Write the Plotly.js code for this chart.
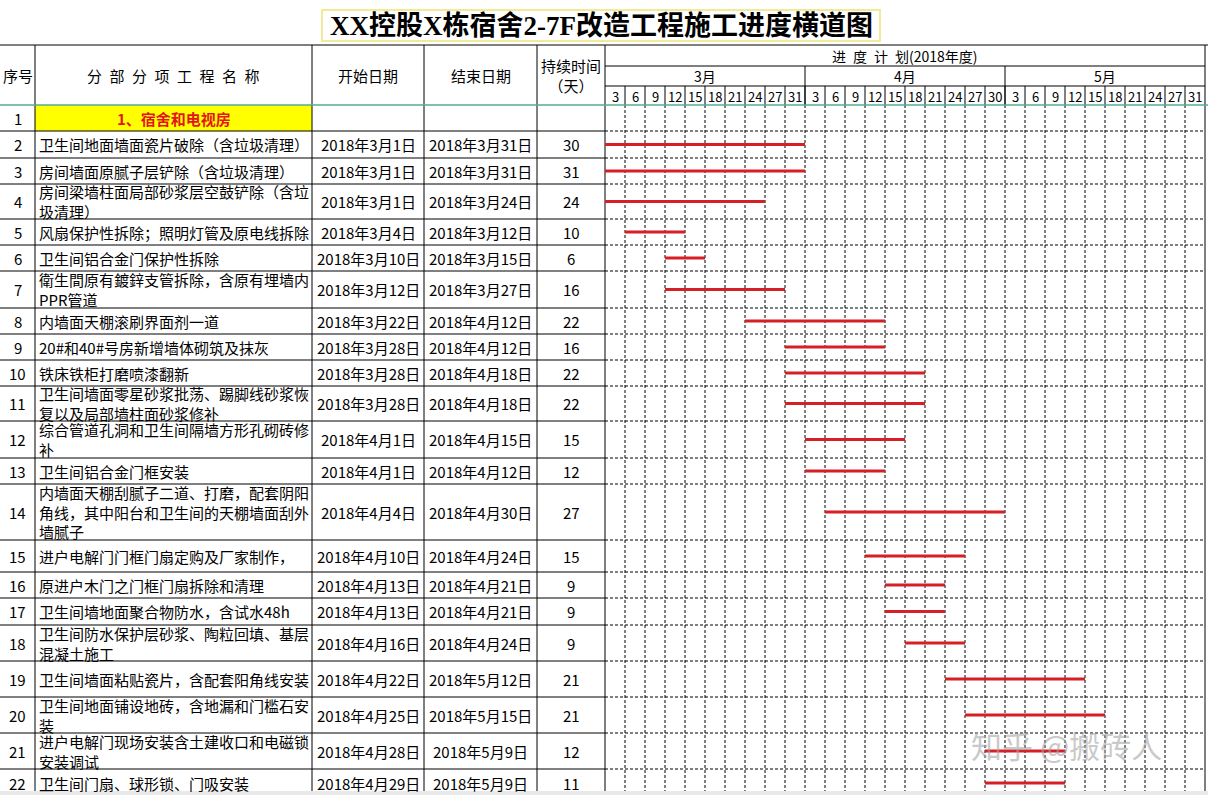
<!DOCTYPE html>
<html>
<head>
<meta charset="utf-8">
<script src="https://cdn.plot.ly/plotly-3.0.1.min.js"></script>
<style>html,body{margin:0;padding:0;background:#fff;}#chart{width:1208px;height:795px;}</style>
</head>
<body>
<div id="chart"></div>
<script>
// ---------------- DATA ----------------
const chartTitle = 'XX控股X栋宿舍2-7F改造工程施工进度横道图';
const seqNumbers = [1,2,3,4,5,6,7,8,9,10,11,12,13,14,15,16,17,18,19,20,21,22];
const taskNames = [
  '1、宿舍和电视房',
  '卫生间地面墙面瓷片破除（含垃圾清理）',
  '房间墙面原腻子层铲除（含垃圾清理）',
  '房间梁墙柱面局部砂浆层空鼓铲除（含垃<br>圾清理）',
  '风扇保护性拆除；照明灯管及原电线拆除',
  '卫生间铝合金门保护性拆除',
  '衛生間原有鍍鋅支管拆除，含原有埋墙内<br>PPR管道',
  '内墙面天棚滚刷界面剂一道',
  '20#和40#号房新增墙体砌筑及抹灰',
  '铁床铁柜打磨喷漆翻新',
  '卫生间墙面零星砂浆批荡、踢脚线砂浆恢<br>复以及局部墙柱面砂浆修补',
  '综合管道孔洞和卫生间隔墙方形孔砌砖修<br>补',
  '卫生间铝合金门框安装',
  '内墙面天棚刮腻子二道、打磨，配套阴阳<br>角线，其中阳台和卫生间的天棚墙面刮外<br>墙腻子',
  '进户电解门门框门扇定购及厂家制作，',
  '原进户木门之门框门扇拆除和清理',
  '卫生间墙地面聚合物防水，含试水48h',
  '卫生间防水保护层砂浆、陶粒回填、基层<br>混凝土施工',
  '卫生间墙面粘贴瓷片，含配套阳角线安装',
  '卫生间地面铺设地砖，含地漏和门槛石安<br>装',
  '进户电解门现场安装含土建收口和电磁锁<br>安装调试',
  '卫生间门扇、球形锁、门吸安装'
];
const startDates = ['',
  '2018年3月1日','2018年3月1日','2018年3月1日','2018年3月4日','2018年3月10日','2018年3月12日',
  '2018年3月22日','2018年3月28日','2018年3月28日','2018年3月28日','2018年4月1日','2018年4月1日',
  '2018年4月4日','2018年4月10日','2018年4月13日','2018年4月13日','2018年4月16日','2018年4月22日',
  '2018年4月25日','2018年4月28日','2018年4月29日'];
const endDates = ['',
  '2018年3月31日','2018年3月31日','2018年3月24日','2018年3月12日','2018年3月15日','2018年3月27日',
  '2018年4月12日','2018年4月12日','2018年4月18日','2018年4月18日','2018年4月15日','2018年4月12日',
  '2018年4月30日','2018年4月24日','2018年4月21日','2018年4月21日','2018年4月24日','2018年5月12日',
  '2018年5月15日','2018年5月9日','2018年5月9日'];
const durations = ['',30,31,24,10,6,16,22,16,22,22,15,12,27,15,9,9,9,21,21,12,11];
const monthLabels = ['3月','4月','5月'];
const dayLabels = ['3','6','9','12','15','18','21','24','27','31',
                   '3','6','9','12','15','18','21','24','27','30',
                   '3','6','9','12','15','18','21','24','27','31'];
const headerLabels = ['序号','分\u2002部\u2002分\u2002项\u2002工\u2002程\u2002名\u2002称','开始日期','结束日期','持续时间<br>（天）'];
const planLabel = '进\u2002度\u2002计\u2002划(2018年度)';
const watermarkText = '知乎 @搬砖人';

// ---------------- LAYOUT (pixels) ----------------
const W = 1208, H = 795;
const colEdges = [0, 35, 312, 424, 537, 605];
const ganttLeft = 605, ganttRight = 1205;
const tableTop = 45, headerBottom = 105;
const rowHeights = [26,27,26,35,26,26,37,26,26,26,35,37,26,56,32,26,27,36,36,36,36,28];
const FONT = '"Noto Sans CJK SC", "Noto Sans", sans-serif';

const rowTop = [];
let acc = headerBottom;
rowHeights.forEach(h => { rowTop.push(acc); acc += h; });
const rowMid = rowTop.map((t, i) => t + rowHeights[i] / 2);
const bottomY = H;

// date -> gantt column units (10 columns per month, 3-day columns, last column holds the rest)
function parseDate(s) {
  const m = s.match(/(\d+)年(\d+)月(\d+)日/);
  return {month: +m[2], day: +m[3]};
}
function colIndex(s) {
  const d = parseDate(s);
  return (d.month - 3) * 10 + Math.min(Math.floor((d.day - 1) / 3), 9);
}

// ---------------- BARS ----------------
const bx = [], by = [];
for (let i = 0; i < seqNumbers.length; i++) {
  if (!startDates[i]) continue;
  bx.push(colIndex(startDates[i]), colIndex(endDates[i]) + 1, null);
  by.push(rowMid[i], rowMid[i], null);
}
const traces = [{
  type: 'scatter', mode: 'lines', x: bx, y: by, xaxis: 'x2', yaxis: 'y',
  line: {color: '#d71f26', width: 3}, hoverinfo: 'skip', showlegend: false
}];

// ---------------- SHAPES ----------------
const shapes = [];
function line(x0, y0, x1, y1, opts) {
  shapes.push(Object.assign({type: 'line', xref: 'x', yref: 'y', x0, y0, x1, y1,
    line: {color: '#000', width: 1}, layer: 'below'}, opts || {}));
}
// title box
shapes.push({type: 'rect', xref: 'x', yref: 'y', x0: 322, x1: 880, y0: 10, y1: 41,
  line: {color: '#f2ea96', width: 2}, fillcolor: '#fff', layer: 'below'});
// section yellow cell
shapes.push({type: 'rect', xref: 'x', yref: 'y', x0: 35, x1: 312, y0: rowTop[0], y1: rowTop[0] + rowHeights[0],
  line: {width: 0}, fillcolor: '#ffff00', layer: 'below'});
// bottom scrollbar strip
shapes.push({type: 'rect', xref: 'x', yref: 'y', x0: 0, x1: W, y0: 791, y1: 795,
  line: {width: 0}, fillcolor: '#e9e9e9', layer: 'above'});

const colW = (ganttRight - ganttLeft) / 30;
// gantt dashed verticals
for (let k = 1; k < 30; k++) {
  const x = ganttLeft + k * colW;
  line(x, headerBottom, x, bottomY, {line: {color: '#000', width: 1, dash: '3px,2px'}});
  line(x, 86, x, headerBottom);
}
// gantt dashed horizontals + table horizontals
for (let i = 1; i < rowTop.length; i++) {
  line(0, rowTop[i], ganttLeft, rowTop[i]);
  line(ganttLeft, rowTop[i], ganttRight, rowTop[i], {line: {color: '#000', width: 1, dash: '3px,2px'}});
}
// table verticals
colEdges.slice(1).forEach(x => line(x, tableTop, x, bottomY));
line(ganttRight, tableTop, ganttRight, bottomY);
// header lines
line(0, tableTop, W, tableTop);
line(ganttLeft, 66, ganttRight, 66);
line(ganttLeft, 86, ganttRight, 86);
line(ganttLeft + 10 * colW, 66, ganttLeft + 10 * colW, headerBottom);
line(ganttLeft + 20 * colW, 66, ganttLeft + 20 * colW, headerBottom);
line(0, headerBottom, W, headerBottom, {line: {color: '#4fae94', width: 1.5}, layer: 'above'});

// ---------------- ANNOTATIONS ----------------
const ann = [];
function txt(text, x, y, opts) {
  ann.push(Object.assign({text, x, y, xref: 'x', yref: 'y', showarrow: false,
    xanchor: 'center', yanchor: 'middle', font: {family: FONT, size: 15, color: '#000'}}, opts || {}));
}
// watermark first (drawn beneath the other texts)
txt(watermarkText, 1066, 744, {font: {family: FONT, size: 31, color: 'rgba(165,165,165,0.6)'}});
txt(chartTitle, 601, 25.5, {font: {family: '"Liberation Serif", "Noto Sans CJK SC", serif', size: 27, color: '#000', weight: 700}});
// header
const hdrMid = (tableTop + headerBottom) / 2;
for (let c = 0; c < 5; c++) {
  txt(headerLabels[c], (colEdges[c] + colEdges[c + 1]) / 2, hdrMid, {font: {family: FONT, size: 15, color: '#000'}});
}
txt(planLabel, (ganttLeft + ganttRight) / 2, 56, {font: {family: FONT, size: 14, color: '#000'}});
monthLabels.forEach((m, i) => txt(m, ganttLeft + (i * 10 + 5) * colW, 76, {font: {family: FONT, size: 14, color: '#000'}}));
dayLabels.forEach((d, i) => txt(d, ganttLeft + (i + 0.5) * colW, 96, {font: {family: FONT, size: 13, color: '#000'}}));

// rows
for (let i = 0; i < seqNumbers.length; i++) {
  const y = rowMid[i];
  txt(String(seqNumbers[i]), 17.5, y);
  if (i === 0) {
    txt(taskNames[i], 173.5, y, {font: {family: FONT, size: 15, color: '#e3141b', weight: 700}});
  } else {
    txt(taskNames[i], 37, y, {xanchor: 'left', align: 'left', font: {family: FONT, size: 15, color: '#000'}});
  }
  if (startDates[i]) txt(startDates[i], 368, y);
  if (endDates[i]) txt(endDates[i], 480.5, y);
  if (durations[i] !== '') txt(String(durations[i]), 571, y);
}

const layout = {
  width: W, height: H,
  margin: {l: 0, r: 0, t: 0, b: 0},
  paper_bgcolor: '#fff', plot_bgcolor: 'rgba(0,0,0,0)',
  showlegend: false,
  xaxis: {domain: [0, 1], range: [0, W], visible: false, fixedrange: true, anchor: 'y'},
  xaxis2: {domain: [ganttLeft / W, ganttRight / W], range: [0, 30], anchor: 'y', visible: false, fixedrange: true},
  yaxis: {domain: [0, 1], range: [H, 0], visible: false, fixedrange: true, anchor: 'x'},
  shapes, annotations: ann
};
Plotly.newPlot('chart', traces, layout, {staticPlot: true, displayModeBar: false});
</script>
</body>
</html>
